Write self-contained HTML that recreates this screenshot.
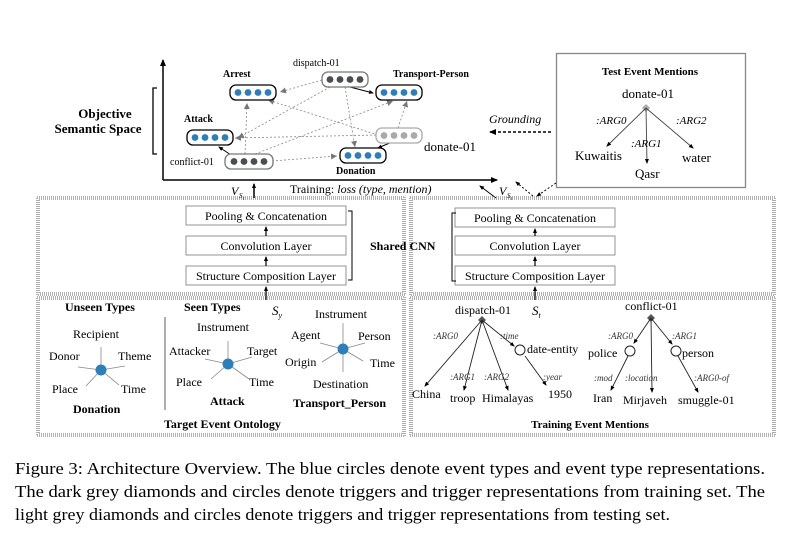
<!DOCTYPE html>
<html><head><meta charset="utf-8"><style>
body{margin:0;background:#fff}
svg{display:block;font-family:"Liberation Serif",serif}
.b{font-weight:bold}
.i{font-style:italic}
</style></head><body>
<svg width="789" height="539" viewBox="0 0 789 539" xmlns="http://www.w3.org/2000/svg">
<defs>
<marker id="a" markerWidth="8" markerHeight="8" refX="6" refY="3" orient="auto" markerUnits="userSpaceOnUse"><path d="M0,0 L7,3 L0,6 z" fill="#000"/></marker>
<marker id="ag" markerWidth="8" markerHeight="8" refX="6" refY="3" orient="auto" markerUnits="userSpaceOnUse"><path d="M0,0 L6,3 L0,6 z" fill="#777"/></marker>
<marker id="s" markerWidth="6" markerHeight="6" refX="4" refY="2" orient="auto" markerUnits="userSpaceOnUse"><path d="M0,0 L5,2 L0,4 z" fill="#000"/></marker>
</defs>
<line x1="163" y1="180" x2="163" y2="60" stroke="#000" stroke-width="1.5" marker-end="url(#a)"/>
<line x1="163" y1="180" x2="497" y2="180" stroke="#000" stroke-width="1.5" marker-end="url(#a)"/>
<path d="M157,88 H153 V154 H157" fill="none" stroke="#000" stroke-width="1.3"/>
<text x="105" y="118" font-size="13" class="b" text-anchor="middle">Objective</text>
<text x="98" y="133" font-size="13" class="b" text-anchor="middle">Semantic Space</text>
<g stroke="#888" stroke-width="0.8" stroke-dasharray="2,2" fill="none">
<line x1="322" y1="80" x2="280" y2="92" marker-end="url(#ag)"/>
<line x1="330" y1="87" x2="238" y2="138" marker-end="url(#ag)"/>
<line x1="345" y1="87" x2="355" y2="147" marker-end="url(#ag)"/>
<line x1="378" y1="135" x2="268" y2="100" marker-end="url(#ag)"/>
<line x1="376" y1="135" x2="235" y2="138" marker-end="url(#ag)"/>
<line x1="398" y1="128" x2="407" y2="101" marker-end="url(#ag)"/>
<line x1="245" y1="154" x2="247" y2="103" marker-end="url(#ag)"/>
<line x1="255" y1="154" x2="393" y2="101" marker-end="url(#ag)"/>
<line x1="272" y1="161" x2="337" y2="156" marker-end="url(#ag)"/>
</g>
<line x1="350" y1="87" x2="373" y2="93" stroke="#000" stroke-width="1" marker-end="url(#s)"/>
<line x1="392" y1="142" x2="378" y2="148" stroke="#000" stroke-width="1" marker-end="url(#s)"/>
<line x1="231" y1="155" x2="219" y2="147" stroke="#000" stroke-width="1" marker-end="url(#s)"/>
<g stroke="#000" stroke-width="1.3" fill="#fff">
<rect x="230" y="85" width="46" height="15" rx="6"/>
<rect x="376" y="85" width="46" height="15" rx="6"/>
<rect x="187" y="130" width="46" height="15" rx="6"/>
<rect x="340" y="148" width="46" height="15" rx="6"/>
<rect x="322" y="72" width="46" height="15" rx="6" stroke="#777"/>
<rect x="225" y="154" width="48" height="15" rx="6" stroke="#777"/>
<rect x="376" y="128" width="46" height="15" rx="6" stroke="#aaa"/>
</g>
<g fill="#2e7fb8">
<circle cx="238" cy="92.5" r="3.4"/><circle cx="248" cy="92.5" r="3.4"/><circle cx="258" cy="92.5" r="3.4"/><circle cx="268" cy="92.5" r="3.4"/>
<circle cx="384" cy="92.5" r="3.4"/><circle cx="394" cy="92.5" r="3.4"/><circle cx="404" cy="92.5" r="3.4"/><circle cx="414" cy="92.5" r="3.4"/>
<circle cx="195" cy="137.5" r="3.4"/><circle cx="205" cy="137.5" r="3.4"/><circle cx="215" cy="137.5" r="3.4"/><circle cx="225" cy="137.5" r="3.4"/>
<circle cx="348" cy="155.5" r="3.4"/><circle cx="358" cy="155.5" r="3.4"/><circle cx="368" cy="155.5" r="3.4"/><circle cx="378" cy="155.5" r="3.4"/>
</g>
<g fill="#4a4d52">
<circle cx="330" cy="79.5" r="3.4"/><circle cx="340" cy="79.5" r="3.4"/><circle cx="350" cy="79.5" r="3.4"/><circle cx="360" cy="79.5" r="3.4"/>
<circle cx="234" cy="161.5" r="3.4"/><circle cx="244" cy="161.5" r="3.4"/><circle cx="254" cy="161.5" r="3.4"/><circle cx="264" cy="161.5" r="3.4"/>
</g>
<g fill="#aaa">
<circle cx="384" cy="135.5" r="3.4"/><circle cx="394" cy="135.5" r="3.4"/><circle cx="404" cy="135.5" r="3.4"/><circle cx="414" cy="135.5" r="3.4"/>
</g>
<text x="223" y="77" font-size="10" class="b">Arrest</text>
<text x="293" y="66" font-size="10">dispatch-01</text>
<text x="393" y="77" font-size="10" class="b">Transport-Person</text>
<text x="184" y="122" font-size="10" class="b">Attack</text>
<text x="170" y="165" font-size="10">conflict-01</text>
<text x="424" y="151" font-size="13">donate-01</text>
<text x="336" y="174" font-size="10" class="b">Donation</text>
<text x="489" y="123" font-size="12" class="i">Grounding</text>
<line x1="551" y1="132" x2="490" y2="132" stroke="#000" stroke-width="1.5" stroke-dasharray="3,2" marker-end="url(#a)"/>
<rect x="556.5" y="53.5" width="189" height="134" fill="none" stroke="#888" stroke-width="1.3"/>
<text x="650" y="75" font-size="11" class="b" text-anchor="middle">Test Event Mentions</text>
<text x="648" y="98" font-size="13" text-anchor="middle">donate-01</text>
<path d="M646,104 l4,4 l-4,4 l-4,-4z" fill="#aaa"/>
<g stroke="#444" stroke-width="0.9">
<line x1="646" y1="108" x2="607" y2="146" marker-end="url(#s)"/>
<line x1="646" y1="108" x2="647" y2="163" marker-end="url(#s)"/>
<line x1="646" y1="108" x2="693" y2="148" marker-end="url(#s)"/>
</g>
<text x="596" y="124" font-size="11" class="i">:ARG0</text>
<text x="631" y="147" font-size="11" class="i">:ARG1</text>
<text x="676" y="124" font-size="11" class="i">:ARG2</text>
<text x="575" y="160" font-size="13">Kuwaitis</text>
<text x="682" y="162" font-size="13">water</text>
<text x="635" y="178" font-size="13">Qasr</text>
<text x="231" y="195" font-size="12" class="i">V</text><text x="239" y="198" font-size="7" class="i">S</text><text x="243" y="200" font-size="5" class="i">t</text>
<line x1="254" y1="198" x2="254" y2="184" stroke="#000" stroke-width="1.5" marker-end="url(#s)"/>
<text x="290" y="193" font-size="12">Training: <tspan class="i">loss (type, mention)</tspan></text>
<line x1="496" y1="198" x2="480" y2="186" stroke="#000" stroke-width="1" marker-end="url(#s)"/>
<text x="499" y="195" font-size="12" class="i">V</text><text x="507" y="198" font-size="7" class="i">S</text><text x="511" y="200" font-size="5" class="i">t</text>
<line x1="533" y1="196" x2="516" y2="182" stroke="#000" stroke-width="1" stroke-dasharray="2,2" marker-end="url(#s)"/>
<line x1="556" y1="183" x2="537" y2="196" stroke="#000" stroke-width="1" stroke-dasharray="2,2" marker-end="url(#s)"/>
<g fill="none" stroke="#333" stroke-width="0.8" stroke-dasharray="1,1">
<rect x="37" y="197" width="368" height="98"/><rect x="39" y="199" width="364" height="94"/>
<rect x="410" y="197" width="365" height="98"/><rect x="412" y="199" width="361" height="94"/>
<rect x="37" y="297" width="368" height="139"/><rect x="39" y="299" width="364" height="135"/>
<rect x="410" y="297" width="365" height="139"/><rect x="412" y="299" width="361" height="135"/>
</g>
<g fill="#fff" stroke="#888" stroke-width="0.9">
<rect x="186" y="206" width="160" height="19"/><rect x="186" y="236" width="160" height="19"/><rect x="186" y="266" width="160" height="19"/>
<rect x="455" y="208" width="160" height="19"/><rect x="455" y="236" width="160" height="19"/><rect x="455" y="266" width="160" height="19"/>
</g>
<g font-size="12" text-anchor="middle">
<text x="266" y="220">Pooling &amp; Concatenation</text><text x="266" y="250">Convolution Layer</text><text x="266" y="280">Structure Composition Layer</text>
<text x="535" y="222">Pooling &amp; Concatenation</text><text x="535" y="250">Convolution Layer</text><text x="535" y="280">Structure Composition Layer</text>
</g>
<g stroke="#000" stroke-width="1.2">
<line x1="266" y1="236" x2="266" y2="227" marker-end="url(#s)"/><line x1="266" y1="266" x2="266" y2="257" marker-end="url(#s)"/>
<line x1="535" y1="236" x2="535" y2="229" marker-end="url(#s)"/><line x1="535" y1="266" x2="535" y2="257" marker-end="url(#s)"/>
<line x1="266" y1="300" x2="266" y2="287" marker-end="url(#s)"/><line x1="535" y1="300" x2="535" y2="287" marker-end="url(#s)"/>
</g>
<path d="M348,211 H352 V280 H348" fill="none" stroke="#000"/>
<path d="M456,213 H452 V281 H456" fill="none" stroke="#000"/>
<text x="370" y="250" font-size="12" class="b">Shared CNN</text>
<text x="272" y="315" font-size="13" class="i">S<tspan font-size="8" dy="3">y</tspan></text>
<text x="532" y="315" font-size="13" class="i">S<tspan font-size="8" dy="3">t</tspan></text>
<line x1="165" y1="317" x2="165" y2="410" stroke="#333" stroke-width="0.8"/>
<g font-size="12" class="b">
<text x="65" y="311">Unseen Types</text><text x="184" y="311">Seen Types</text>
<text x="73" y="413">Donation</text><text x="210" y="405">Attack</text><text x="293" y="407">Transport_Person</text>
<text x="164" y="428">Target Event Ontology</text>
</g>
<g stroke="#888" stroke-width="0.8">
<line x1="101" y1="370" x2="101" y2="347"/><line x1="101" y1="370" x2="78" y2="367"/><line x1="101" y1="370" x2="125" y2="366"/><line x1="101" y1="370" x2="86" y2="386"/><line x1="101" y1="370" x2="119" y2="385"/>
<line x1="228" y1="364" x2="228" y2="341"/><line x1="228" y1="364" x2="205" y2="359"/><line x1="228" y1="364" x2="252" y2="357"/><line x1="228" y1="364" x2="211" y2="379"/><line x1="228" y1="364" x2="249" y2="379"/>
<line x1="343" y1="349" x2="343" y2="323"/><line x1="343" y1="349" x2="320" y2="343"/><line x1="343" y1="349" x2="365" y2="343"/><line x1="343" y1="349" x2="322" y2="362"/><line x1="343" y1="349" x2="363" y2="361"/><line x1="343" y1="349" x2="343" y2="372"/>
</g>
<g fill="#2e7fb8"><circle cx="101" cy="370" r="5.5"/><circle cx="228" cy="364" r="5.5"/><circle cx="343" cy="349" r="5.5"/></g>
<g font-size="12">
<text x="73" y="338">Recipient</text><text x="49" y="360">Donor</text><text x="118" y="360">Theme</text><text x="52" y="393">Place</text><text x="121" y="393">Time</text>
<text x="197" y="331">Instrument</text><text x="169" y="355">Attacker</text><text x="247" y="355">Target</text><text x="176" y="386">Place</text><text x="249" y="386">Time</text>
<text x="315" y="318">Instrument</text><text x="291" y="339">Agent</text><text x="358" y="340">Person</text><text x="285" y="366">Origin</text><text x="370" y="367">Time</text><text x="313" y="388">Destination</text>
</g>
<g font-size="12">
<text x="455" y="314">dispatch-01</text><text x="625" y="310">conflict-01</text>
<text x="527" y="353">date-entity</text><text x="588" y="357">police</text><text x="682" y="357">person</text>
<text x="412" y="398">China</text><text x="450" y="402">troop</text><text x="482" y="402">Himalayas</text><text x="548" y="398">1950</text>
<text x="593" y="402">Iran</text><text x="623" y="404">Mirjaveh</text><text x="678" y="404">smuggle-01</text>
</g>
<g font-size="9" class="i" fill="#333">
<text x="433" y="339">:ARG0</text><text x="500" y="339">:time</text><text x="450" y="380">:ARG1</text><text x="484" y="380">:ARG2</text><text x="543" y="380">:year</text>
<text x="608" y="339">:ARG0</text><text x="672" y="339">:ARG1</text><text x="594" y="381">:mod</text><text x="625" y="381">:location</text><text x="694" y="381">:ARG0-of</text>
</g>
<path d="M482,316 l4,4 l-4,4 l-4,-4z" fill="#555"/>
<path d="M651,314 l4,4 l-4,4 l-4,-4z" fill="#555"/>
<g stroke="#222" stroke-width="0.9" fill="none">
<line x1="482" y1="320" x2="425" y2="386" marker-end="url(#s)"/>
<line x1="482" y1="320" x2="464" y2="390" marker-end="url(#s)"/>
<line x1="482" y1="320" x2="508" y2="390" marker-end="url(#s)"/>
<line x1="482" y1="320" x2="514" y2="346" marker-end="url(#s)"/>
<line x1="525" y1="356" x2="546" y2="385" marker-end="url(#s)"/>
<line x1="651" y1="318" x2="634" y2="343" marker-end="url(#s)"/>
<line x1="651" y1="318" x2="652" y2="392" marker-end="url(#s)"/>
<line x1="651" y1="318" x2="672" y2="344" marker-end="url(#s)"/>
<line x1="628" y1="356" x2="611" y2="390" marker-end="url(#s)"/>
<line x1="678" y1="356" x2="698" y2="392" marker-end="url(#s)"/>
</g>
<g fill="#fff" stroke="#222" stroke-width="1"><circle cx="520" cy="350" r="5"/><circle cx="630" cy="351" r="5"/><circle cx="676" cy="351" r="5"/></g>
<text x="590" y="428" font-size="11" class="b" text-anchor="middle">Training Event Mentions</text>
<g font-size="16.5">
<text x="15" y="474" textLength="750" lengthAdjust="spacingAndGlyphs">Figure 3:  Architecture Overview.  The blue circles denote event types and event type representations.</text>
<text x="15" y="497" textLength="750" lengthAdjust="spacingAndGlyphs">The dark grey diamonds and circles denote triggers and trigger representations from training set.  The</text>
<text x="15" y="520" textLength="655" lengthAdjust="spacingAndGlyphs">light grey diamonds and circles denote triggers and trigger representations from testing set.</text>
</g>
</svg>
</body></html>
